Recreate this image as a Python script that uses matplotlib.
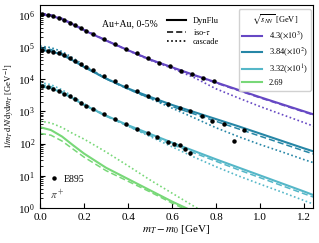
import numpy as np
import matplotlib
matplotlib.use("Agg")
import matplotlib.pyplot as plt
from matplotlib.lines import Line2D

plt.rcParams["font.family"] = ["Liberation Serif", "DejaVu Serif"]
plt.rcParams["mathtext.fontset"] = "stix"
plt.rcParams["font.size"] = 8

# log10 of the (scaled) spectra
m_grid = [0, 0.05, 0.1, 0.15, 0.2, 0.3, 0.4, 0.5, 0.6, 0.7, 0.8, 0.9, 1.0, 1.1, 1.2, 1.25]
m_green = [0, 0.05, 0.1, 0.15, 0.2, 0.3, 0.4, 0.5, 0.6, 0.7, 0.8]

energies = ["4.3($\\times10^3$)", "3.84($\\times10^2$)", "3.32($\\times10^1$)", "2.69"]
colors = ["#6648c4", "#2686a6", "#55b7c8", "#78d878"]

dynflu = [
    [6.02, 5.97, 5.86, 5.70, 5.52, 5.20, 4.90, 4.61, 4.37, 4.13, 3.90, 3.67, 3.44, 3.22, 3.00, 2.89],
    [4.91, 4.87, 4.76, 4.58, 4.38, 4.02, 3.71, 3.45, 3.20, 2.98, 2.76, 2.54, 2.31, 2.08, 1.85, 1.74],
    [3.78, 3.72, 3.58, 3.40, 3.20, 2.87, 2.57, 2.30, 2.03, 1.77, 1.51, 1.26, 1.01, 0.76, 0.51, 0.38],
    [2.51, 2.42, 2.22, 1.95, 1.69, 1.25, 0.90, 0.55, 0.20, -0.12, -0.45],
]
iso_tau = [
    [6.05, 6.00, 5.89, 5.72, 5.54, 5.21, 4.90, 4.61, 4.36, 4.12, 3.88, 3.65, 3.42, 3.20, 2.98, 2.87],
    [4.97, 4.92, 4.80, 4.60, 4.39, 4.01, 3.69, 3.41, 3.15, 2.92, 2.69, 2.46, 2.23, 2.00, 1.77, 1.66],
    [3.84, 3.77, 3.61, 3.41, 3.20, 2.85, 2.54, 2.25, 1.97, 1.71, 1.45, 1.19, 0.94, 0.69, 0.44, 0.32],
    [2.32, 2.26, 2.08, 1.83, 1.58, 1.16, 0.83, 0.50, 0.15, -0.17, -0.50],
]
cascade = [
    [6.03, 5.98, 5.87, 5.71, 5.53, 5.20, 4.89, 4.59, 4.34, 4.05, 3.70, 3.42, 3.15, 2.90, 2.65, 2.52],
    [5.03, 4.98, 4.86, 4.66, 4.43, 4.03, 3.70, 3.40, 3.10, 2.80, 2.49, 2.22, 1.97, 1.74, 1.50, 1.39],
    [3.90, 3.83, 3.67, 3.46, 3.24, 2.87, 2.54, 2.22, 1.90, 1.58, 1.28, 1.00, 0.74, 0.49, 0.23, 0.10],
    [2.70, 2.64, 2.50, 2.31, 2.14, 1.74, 1.31, 0.87, 0.46, 0.05, -0.35],
]

# E895 pi+ data (log10, scaled)
e895_m = [
    [0.01, 0.035, 0.06, 0.085, 0.11, 0.135, 0.16, 0.185, 0.21, 0.24, 0.29, 0.34, 0.39,
     0.44, 0.49, 0.54, 0.59, 0.64, 0.69, 0.74, 0.79],
    [0.01, 0.035, 0.06, 0.085, 0.11, 0.135, 0.16, 0.185, 0.21, 0.24, 0.29, 0.34, 0.39,
     0.44, 0.49, 0.53, 0.58, 0.636, 0.68, 0.736, 0.78, 0.836, 0.88, 0.927],
    [0.01, 0.035, 0.06, 0.085, 0.11, 0.135, 0.16, 0.185, 0.21, 0.24, 0.29, 0.34, 0.39,
     0.44, 0.49, 0.53, 0.58, 0.61, 0.636, 0.66, 0.68],
]
e895_log = [
    [6.01, 5.99, 5.95, 5.90, 5.84, 5.76, 5.68, 5.59, 5.50, 5.40, 5.24, 5.09, 4.94,
     4.80, 4.65, 4.51, 4.41, 4.26, 4.15, 4.05, 3.95],
    [4.90, 4.88, 4.85, 4.80, 4.74, 4.66, 4.57, 4.48, 4.39, 4.28, 4.10, 3.94, 3.78,
     3.63, 3.49, 3.38, 3.22, 3.10, 3.01, 2.86, 2.70, 2.61, 2.09, 2.42],
    [3.78, 3.75, 3.69, 3.63, 3.55, 3.47, 3.37, 3.27, 3.18, 3.08, 2.91, 2.75, 2.61,
     2.46, 2.33, 2.21, 2.05, 2.00, 1.95, 1.82, 1.72],
]

fig = plt.figure(figsize=(3.19, 2.43), dpi=100)
ax = fig.add_axes([0.1254, 0.144, 0.856, 0.835])

for i, col in enumerate(colors):
    mm = m_green if i == 3 else m_grid
    ax.plot(mm, np.power(10.0, dynflu[i]), color=col, lw=1.5, ls="-")
    ax.plot(mm, np.power(10.0, iso_tau[i]), color=col, lw=1.1, ls=(0, (4, 2)))
    ax.plot(mm, np.power(10.0, cascade[i]), color=col, lw=1.2, ls=(0, (1, 1.5)))

for mm, lv in zip(e895_m, e895_log):
    ax.plot(mm, np.power(10.0, lv), "o", color="black", ms=2.2, zorder=5)

ax.set_yscale("log")
ax.set_xlim(0, 1.24)
ax.set_ylim(1, 2e6)
ax.set_yticks([1e0, 1e1, 1e2, 1e3, 1e4, 1e5, 1e6])
ax.set_xlabel("$m_T - m_0$ [GeV]", labelpad=1)
ax.set_ylabel("$1/m_T\\,\\mathrm{d}N/\\mathrm{d}y\\mathrm{d}m_T$ [GeV$^{-1}$]",
              fontsize=6.2, labelpad=1)
ax.tick_params(which="both", direction="in", labelsize=8)
ax.set_xticks([0, 0.2, 0.4, 0.6, 0.8, 1.0, 1.2])

ax.text(0.227, 0.906, "Au+Au, 0-5%", transform=ax.transAxes, fontsize=7, va="center")
ax.text(0.038, 0.064, "$\\pi^+$", transform=ax.transAxes, fontsize=8, va="center",
        color="#555555")

# line style legend
style_handles = [
    Line2D([], [], color="black", lw=1.5, ls="-"),
    Line2D([], [], color="black", lw=1.1, ls=(0, (4, 2))),
    Line2D([], [], color="black", lw=1.2, ls=(0, (1, 1.5))),
]
leg1 = ax.legend(style_handles, ["DynFlu", "iso-$\\tau$", "cascade"], loc="upper left",
                 bbox_to_anchor=(0.465, 0.94), frameon=False, fontsize=6,
                 handlelength=2.3, labelspacing=0.15, handletextpad=0.8,
                 borderpad=0, borderaxespad=0)
ax.add_artist(leg1)

energy_handles = [Line2D([], [], color=c, lw=1.5) for c in colors]
leg2 = ax.legend(energy_handles, energies, loc="upper right", bbox_to_anchor=(0.993, 0.98),
                 title="$\\sqrt{s_{NN}}$ [GeV]", title_fontsize=6, fontsize=6,
                 handlelength=2.4, labelspacing=0.4, handletextpad=0.8,
                 borderpad=0.4, borderaxespad=0, fancybox=True, framealpha=0.9)
ax.add_artist(leg2)

dot_handle = [Line2D([], [], marker="o", color="black", ls="", ms=2.2)]
ax.legend(dot_handle, ["E895"], loc="center left", bbox_to_anchor=(0.033, 0.141),
          frameon=False, fontsize=7, handlelength=1.0, handletextpad=0.5,
          borderpad=0, borderaxespad=0)

fig.savefig("out.png", dpi=100)
